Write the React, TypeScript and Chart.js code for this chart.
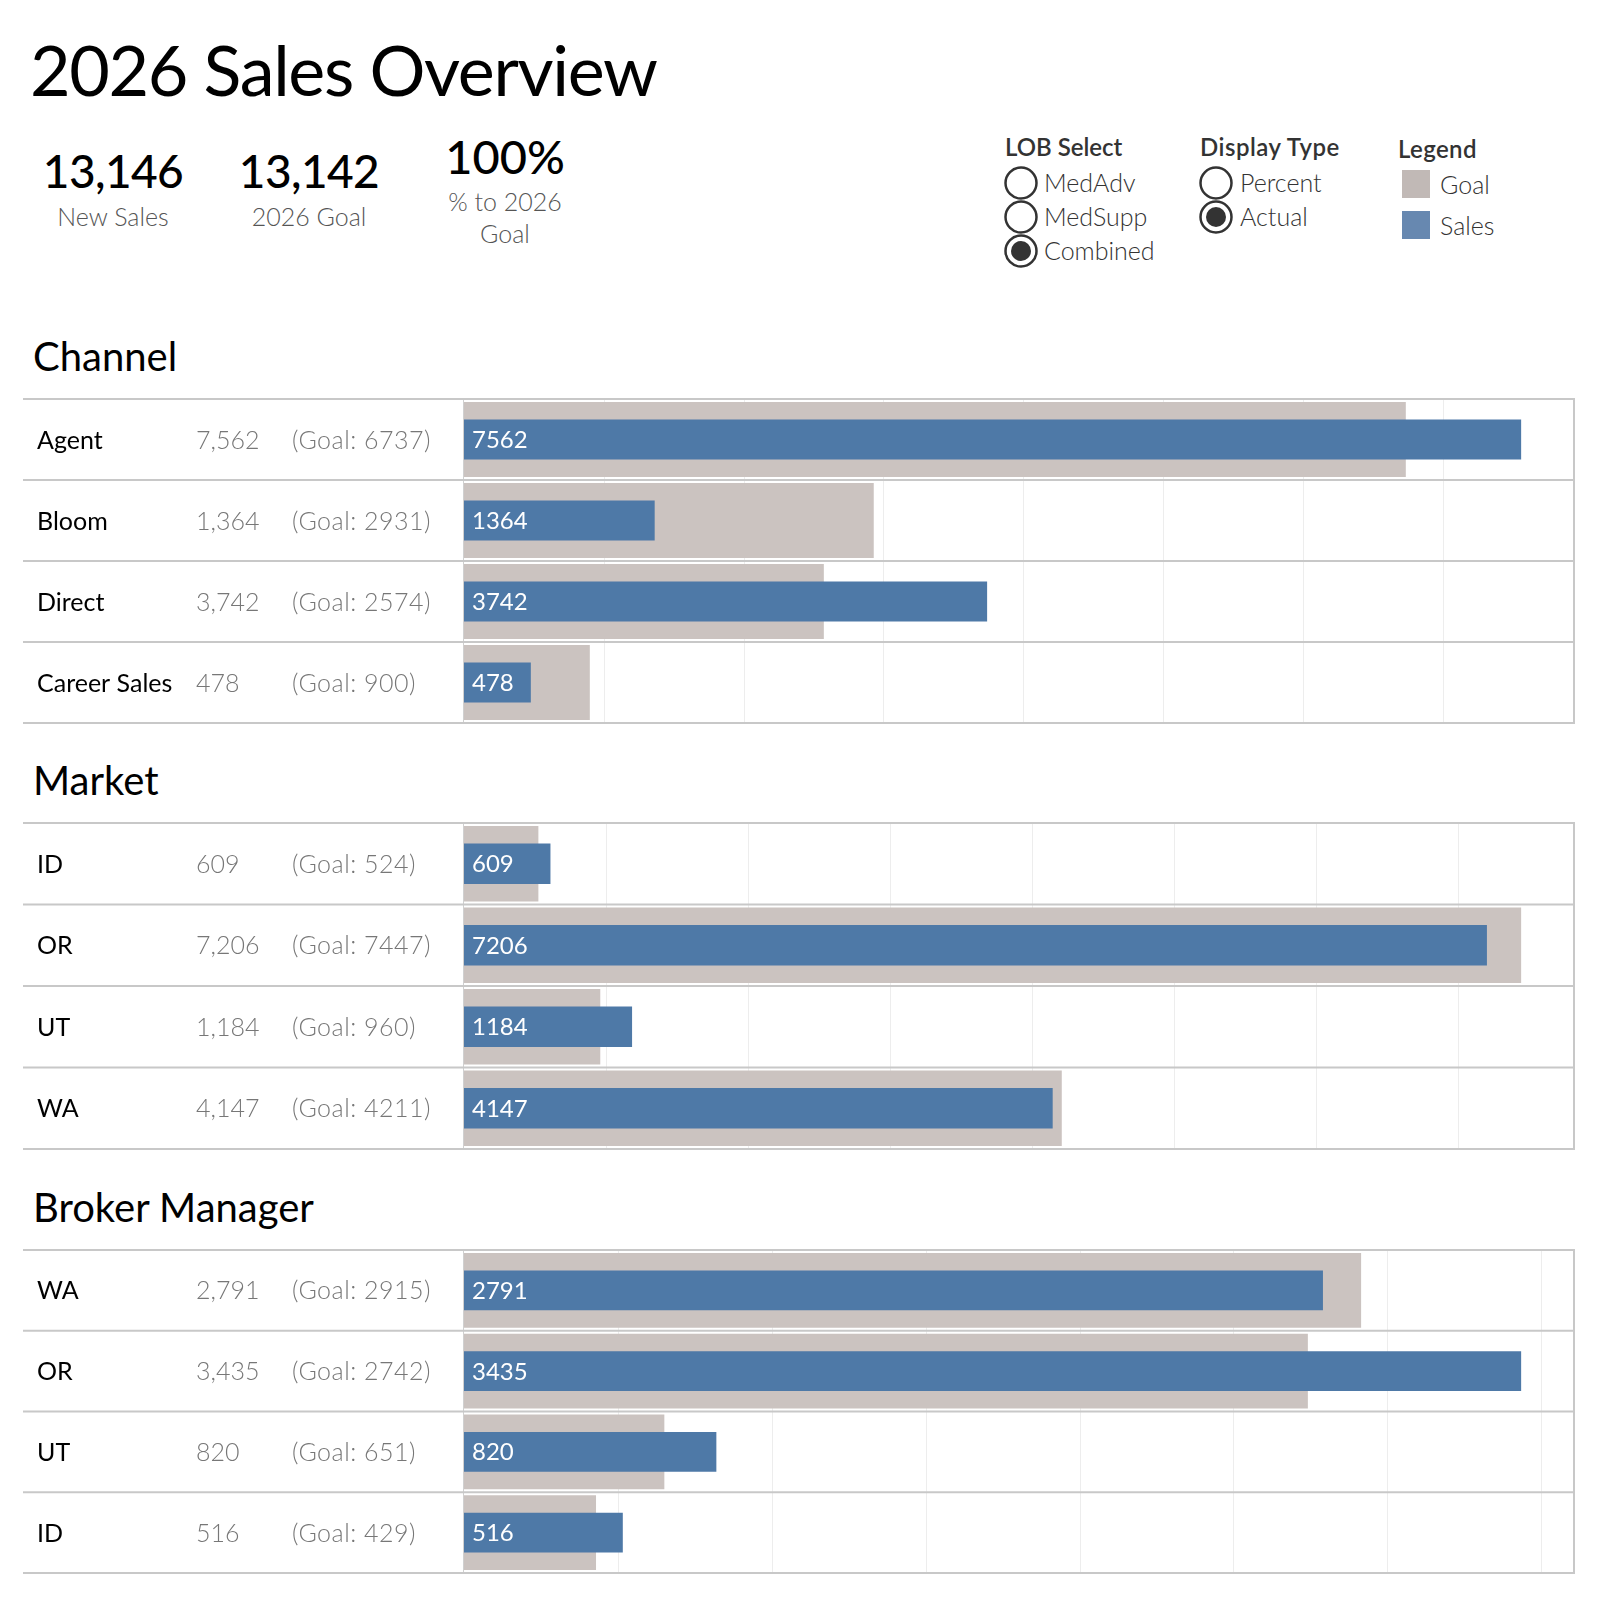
import React, { useEffect, useRef } from "react";
import { Chart, registerables } from "chart.js";

Chart.register(...registerables);

// ---------------- DATA ----------------
const channelLabels = ["Agent", "Bloom", "Direct", "Career Sales"];
const channelSales = [7562, 1364, 3742, 478];
const channelGoals = [6737, 2931, 2574, 900];

const marketLabels = ["ID", "OR", "UT", "WA"];
const marketSales = [609, 7206, 1184, 4147];
const marketGoals = [524, 7447, 960, 4211];

const brokerLabels = ["WA", "OR", "UT", "ID"];
const brokerSales = [2791, 3435, 820, 516];
const brokerGoals = [2915, 2742, 651, 429];

const kpiNewSales = "13,146";
const kpiGoal = "13,142";
const kpiPct = "100%";

const lobOptions = ["MedAdv", "MedSupp", "Combined"];
const lobSelected = "Combined";
const displayOptions = ["Percent", "Actual"];
const displaySelected = "Actual";
const legendItems = ["Goal", "Sales"];

// ---------------- STYLE ----------------
const FONT = "Lato, 'Noto Sans', sans-serif";
const SALES_COLOR = "#4e79a7";
const GOAL_COLOR = "#cbc3c0";
const LEGEND_GOAL = "#c1b9b6";
const LEGEND_SALES = "#6788b0";
const LINE_COLOR = "#c8c8c8";
const GRID_COLOR = "#ededed";

type PanelProps = {
  title: string;
  labels: string[];
  sales: number[];
  goals: number[];
  top: number;
  rowH: number;
  step: number;
};

const PAD = 6;
const LEFT = 464;
const RIGHT_EDGE = 1574;
const TABLE_LEFT = 23;

function Panel({ title, labels, sales, goals, top, rowH, step }: PanelProps) {
  const ref = useRef<HTMLCanvasElement | null>(null);
  const height = Math.round(rowH * labels.length) + PAD * 2;

  useEffect(() => {
    if (!ref.current) return;
    const axisMax = Math.max(...sales, ...goals) * 1.05;

    const tablePlugin = {
      id: "tablePlugin",
      beforeDatasetsDraw(chart: any) {
        const { ctx, chartArea } = chart;
        const xs = chart.scales.x;
        ctx.save();
        ctx.strokeStyle = GRID_COLOR;
        ctx.lineWidth = 1;
        for (let v = step; v < axisMax; v += step) {
          const px = Math.round(xs.getPixelForValue(v)) + 0.5;
          ctx.beginPath();
          ctx.moveTo(px, chartArea.top);
          ctx.lineTo(px, chartArea.bottom);
          ctx.stroke();
        }
        ctx.restore();
      },
      afterDatasetsDraw(chart: any) {
        const { ctx, chartArea } = chart;
        const ys = chart.scales.y;
        ctx.save();
        // vertical divider between table and chart
        ctx.strokeStyle = "#d0d0d0";
        ctx.lineWidth = 1;
        ctx.beginPath();
        ctx.moveTo(chartArea.left - 0.5, chartArea.top);
        ctx.lineTo(chartArea.left - 0.5, chartArea.bottom);
        ctx.stroke();
        // right border
        ctx.strokeStyle = LINE_COLOR;
        ctx.lineWidth = 2;
        ctx.beginPath();
        ctx.moveTo(RIGHT_EDGE, chartArea.top);
        ctx.lineTo(RIGHT_EDGE, chartArea.bottom);
        ctx.stroke();
        // row separators
        const n = labels.length;
        for (let i = 0; i <= n; i++) {
          let y: number;
          if (i === 0) y = chartArea.top;
          else if (i === n) y = chartArea.bottom;
          else y = (ys.getPixelForValue(i - 1) + ys.getPixelForValue(i)) / 2;
          ctx.strokeStyle = LINE_COLOR;
          ctx.lineWidth = 2;
          ctx.beginPath();
          ctx.moveTo(TABLE_LEFT, y);
          ctx.lineTo(RIGHT_EDGE + 1, y);
          ctx.stroke();
        }
        // table text
        ctx.textBaseline = "alphabetic";
        ctx.textAlign = "left";
        for (let i = 0; i < n; i++) {
          const cy = ys.getPixelForValue(i);
          ctx.fillStyle = "#000";
          ctx.font = `400 25px ${FONT}`;
          (ctx as any).letterSpacing = "0px";
          ctx.fillText(labels[i], 37, cy + 9);
          ctx.fillStyle = "#777";
          ctx.font = `300 25px ${FONT}`;
          ctx.fillText(sales[i].toLocaleString("en-US"), 196, cy + 9);
          (ctx as any).letterSpacing = "0.5px";
          ctx.fillText(`(Goal: ${goals[i]})`, 292, cy + 9);
          (ctx as any).letterSpacing = "0px";
        }
        // sales labels inside bars
        const meta = chart.getDatasetMeta(0);
        ctx.fillStyle = "#ffffff";
        ctx.font = `400 24px ${FONT}`;
        meta.data.forEach((bar: any, i: number) => {
          ctx.fillText(String(sales[i]), chartArea.left + 8, bar.y + 8.5);
        });
        ctx.restore();
      },
    };

    const chart = new Chart(ref.current, {
      type: "bar",
      data: {
        labels,
        datasets: [
          {
            label: "Sales",
            data: sales,
            backgroundColor: SALES_COLOR,
            barPercentage: 0.494,
            categoryPercentage: 1,
            grouped: false,
            order: 0,
          } as any,
          {
            label: "Goal",
            data: goals,
            backgroundColor: GOAL_COLOR,
            barPercentage: 0.926,
            categoryPercentage: 1,
            grouped: false,
            order: 1,
          } as any,
        ],
      },
      options: {
        indexAxis: "y",
        responsive: false,
        animation: false,
        layout: { padding: { left: LEFT, right: 1600 - RIGHT_EDGE, top: PAD, bottom: PAD } },
        plugins: { legend: { display: false }, tooltip: { enabled: false } },
        scales: {
          x: { display: false, min: 0, max: axisMax, ticks: { stepSize: step } },
          y: { display: false },
        },
      },
      plugins: [tablePlugin],
    });
    return () => chart.destroy();
  }, []);

  return (
    <>
      <div
        style={{
          position: "absolute",
          left: 33,
          top: top - 63,
          fontFamily: FONT,
          fontSize: 40,
          lineHeight: 1,
          color: "#000",
          whiteSpace: "nowrap",
        }}
      >
        {title}
      </div>
      <canvas
        ref={ref}
        width={1600}
        height={height}
        style={{ position: "absolute", left: 0, top: top - PAD, width: 1600, height }}
      />
    </>
  );
}

function Radio({ cx, cy, selected }: { cx: number; cy: number; selected: boolean }) {
  return (
    <svg
      width={36}
      height={36}
      style={{ position: "absolute", left: cx - 18, top: cy - 18 }}
    >
      <circle cx={18} cy={18} r={15.5} fill="#fff" stroke="#333" strokeWidth={2.5} />
      {selected && <circle cx={18} cy={18} r={10} fill="#333" />}
    </svg>
  );
}

const T = (s: React.CSSProperties): React.CSSProperties => ({
  position: "absolute",
  lineHeight: 1,
  whiteSpace: "nowrap",
  fontFamily: FONT,
  ...s,
});

export default function App() {
  return (
    <div
      style={{
        position: "absolute",
        left: 0,
        top: 0,
        width: 1600,
        height: 1600,
        background: "#fff",
        overflow: "hidden",
      }}
    >
      {/* Title */}
      <div style={T({ left: 30, top: 34, fontSize: 70, letterSpacing: "-1.35px", color: "#000" })}>
        2026 Sales Overview
      </div>

      {/* KPIs */}
      <div style={T({ left: 13, width: 200, textAlign: "center", top: 148, fontSize: 46, fontWeight: 500, letterSpacing: "-0.6px", color: "#000" })}>
        {kpiNewSales}
      </div>
      <div style={T({ left: 13, width: 200, textAlign: "center", top: 204, fontSize: 25, fontWeight: 300, color: "#555" })}>
        New Sales
      </div>
      <div style={T({ left: 209, width: 200, textAlign: "center", top: 148, fontSize: 46, fontWeight: 500, letterSpacing: "-0.6px", color: "#000" })}>
        {kpiGoal}
      </div>
      <div style={T({ left: 209, width: 200, textAlign: "center", top: 204, fontSize: 25, fontWeight: 300, color: "#555" })}>
        2026 Goal
      </div>
      <div style={T({ left: 405, width: 200, textAlign: "center", top: 133, fontSize: 47, fontWeight: 500, color: "#000" })}>
        {kpiPct}
      </div>
      <div style={T({ left: 405, width: 200, textAlign: "center", top: 189, fontSize: 25, fontWeight: 300, color: "#555" })}>
        % to 2026
      </div>
      <div style={T({ left: 405, width: 200, textAlign: "center", top: 221, fontSize: 25, fontWeight: 300, color: "#555" })}>
        Goal
      </div>

      {/* LOB Select */}
      <div style={T({ left: 1005, top: 135, fontSize: 24, fontWeight: 600, color: "#333" })}>LOB Select</div>
      {lobOptions.map((o, i) => {
        const cy = 183 + i * 34;
        return (
          <React.Fragment key={o}>
            <Radio cx={1021} cy={cy} selected={o === lobSelected} />
            <div style={T({ left: 1044, top: cy - 13.5, fontSize: 25, fontWeight: 300, color: "#333" })}>{o}</div>
          </React.Fragment>
        );
      })}

      {/* Display Type */}
      <div style={T({ left: 1200, top: 135, fontSize: 24, fontWeight: 600, letterSpacing: "0.5px", color: "#333" })}>
        Display Type
      </div>
      {displayOptions.map((o, i) => {
        const cy = 183 + i * 34;
        return (
          <React.Fragment key={o}>
            <Radio cx={1216} cy={cy} selected={o === displaySelected} />
            <div style={T({ left: 1240, top: cy - 13.5, fontSize: 25, fontWeight: 300, color: "#333" })}>{o}</div>
          </React.Fragment>
        );
      })}

      {/* Legend */}
      <div style={T({ left: 1398, top: 137, fontSize: 24, fontWeight: 600, letterSpacing: "0.4px", color: "#333" })}>Legend</div>
      {legendItems.map((o, i) => {
        const y = 170 + i * 41;
        return (
          <React.Fragment key={o}>
            <div
              style={{
                position: "absolute",
                left: 1402,
                top: y,
                width: 28,
                height: 28,
                background: o === "Goal" ? LEGEND_GOAL : LEGEND_SALES,
              }}
            />
            <div style={T({ left: 1440, top: y + 2, fontSize: 25, fontWeight: 300, color: "#333" })}>{o}</div>
          </React.Fragment>
        );
      })}

      <Panel title="Channel" labels={channelLabels} sales={channelSales} goals={channelGoals} top={399} rowH={81} step={1000} />
      <Panel title="Market" labels={marketLabels} sales={marketSales} goals={marketGoals} top={823} rowH={81.5} step={1000} />
      <Panel title="Broker Manager" labels={brokerLabels} sales={brokerSales} goals={brokerGoals} top={1250} rowH={80.75} step={500} />
    </div>
  );
}
